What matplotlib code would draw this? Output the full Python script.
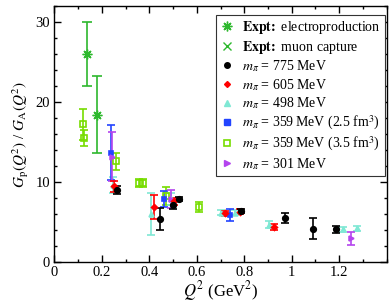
import matplotlib
matplotlib.use("Agg")
import matplotlib.pyplot as plt
from matplotlib.lines import Line2D
from matplotlib.ticker import MultipleLocator

plt.rcParams['font.family'] = ['Liberation Serif', 'DejaVu Serif']
plt.rcParams['mathtext.fontset'] = 'stix'

# ---------------- datos ----------------
# experimento
elec_q2 = [0.137]
elec_g = [26.0]
elec_err = [4.0]
muon_q2 = [0.178]
muon_g = [18.4]
muon_err = [4.8]

# m_pi = 775 MeV
q2_775 = [0.262, 0.443, 0.500, 0.527, 0.787, 0.973, 1.091, 1.187]
g_775 = [9.0, 5.4, 7.2, 7.9, 6.4, 5.5, 4.2, 4.1]
e_775 = [0.5, 1.4, 0.6, 0.3, 0.3, 0.6, 1.35, 0.45]

# m_pi = 605 MeV
q2_605 = [0.252, 0.419, 0.505, 0.720, 0.780, 0.927]
g_605 = [9.5, 6.9, 7.6, 6.1, 6.3, 4.4]
e_605 = [0.7, 1.5, 0.4, 0.35, 0.3, 0.4]

# m_pi = 498 MeV
q2_498 = [0.245, 0.406, 0.490, 0.700, 0.760, 0.906, 1.217, 1.277]
g_498 = [9.6, 6.0, 7.9, 6.2, 6.2, 4.7, 4.1, 4.25]
e_498 = [1.0, 2.6, 0.8, 0.3, 0.3, 0.4, 0.3, 0.3]

# m_pi = 359 MeV (2.5 fm^3)
q2_359a = [0.237, 0.462, 0.738]
g_359a = [13.7, 7.9, 5.9]
e_359a = [3.4, 1.0, 0.7]

# m_pi = 359 MeV (3.5 fm^3)
q2_359b = [0.120, 0.124, 0.258, 0.357, 0.372, 0.472, 0.609]
g_359b = [17.2, 15.5, 12.6, 9.9, 9.9, 8.3, 6.9]
e_359b = [1.9, 1.0, 1.1, 0.5, 0.5, 1.1, 0.6]

# m_pi = 301 MeV
q2_301 = [0.243, 0.493, 1.250]
g_301 = [13.2, 7.9, 3.0]
e_301 = [3.0, 1.1, 0.8]

# ---------------- grafico ----------------
fig = plt.figure(figsize=(3.91, 3.02), dpi=100)
ax = fig.add_axes([0.139, 0.1315, 0.850, 0.849])

verde = '#2db82d'
series = [
    (q2_359b, g_359b, e_359b, 's', '#77dd00', 'none', 4.0),
    (q2_498, g_498, e_498, '^', '#7fe8d4', '#7fe8d4', 3.5),
    (q2_359a, g_359a, e_359a, 's', '#2244ff', '#2244ff', 3.5),
    (q2_301, g_301, e_301, '>', '#b444ee', '#b444ee', 3.5),
    (q2_605, g_605, e_605, 'D', '#ff0000', '#ff0000', 3.0),
    (q2_775, g_775, e_775, 'o', 'black', 'black', 4.0),
]
for x, y, e, m, c, fc, ms in series:
    ax.errorbar(x, y, yerr=e, fmt=m, color=c, mfc=fc, mec=c, ms=ms,
                mew=1.2, elinewidth=1.2, capsize=3, capthick=1.2)

ax.errorbar(elec_q2, elec_g, yerr=elec_err, fmt='none', ecolor=verde,
            elinewidth=1.2, capsize=3.5, capthick=1.2)
ax.plot(elec_q2, elec_g, marker=(8, 2, 0), color=verde, ms=7, mew=1.0, ls='none')
ax.errorbar(muon_q2, muon_g, yerr=muon_err, fmt='none', ecolor=verde,
            elinewidth=1.2, capsize=3.5, capthick=1.2)
ax.plot(muon_q2, muon_g, marker=(8, 2, 0), color=verde, ms=7, mew=1.0, ls='none')

ax.set_xlim(0, 1.4)
ax.set_ylim(0, 32)
ax.xaxis.set_major_locator(MultipleLocator(0.2))
ax.xaxis.set_minor_locator(MultipleLocator(0.1))
ax.yaxis.set_major_locator(MultipleLocator(10))
ax.yaxis.set_minor_locator(MultipleLocator(2))
ax.set_xticks([0, 0.2, 0.4, 0.6, 0.8, 1.0, 1.2])
ax.set_xticklabels(['0', '0.2', '0.4', '0.6', '0.8', '1', '1.2'])
ax.tick_params(which='both', direction='in', top=True, right=True, labelsize=10.5, pad=3)
ax.tick_params(which='major', length=5, width=1)
ax.tick_params(which='minor', length=2.5, width=1)
for s in ax.spines.values():
    s.set_linewidth(1.0)

ax.set_xlabel(r'$Q^2$ (GeV$^2$)', fontsize=12, labelpad=0)
ax.set_ylabel(r'$G_{\rm p}(Q^2)$ / $G_{\rm A}(Q^2)$', fontsize=11, labelpad=3)

handles = [
    Line2D([], [], ls='none', marker=(8, 2, 0), color=verde, ms=7, mew=1.0),
    Line2D([], [], ls='none', marker='x', color=verde, ms=6, mew=1.0),
    Line2D([], [], ls='none', marker='o', color='black', ms=4),
    Line2D([], [], ls='none', marker='D', color='#ff0000', ms=3),
    Line2D([], [], ls='none', marker='^', color='#7fe8d4', ms=4),
    Line2D([], [], ls='none', marker='s', color='#2244ff', ms=4),
    Line2D([], [], ls='none', marker='s', mfc='none', mec='#77dd00', mew=1.2, ms=4.5),
    Line2D([], [], ls='none', marker='>', color='#b444ee', ms=4),
]
labels = [
    r'$\mathbf{Expt}\!\mathbf{:}$ electroproduction',
    r'$\mathbf{Expt}\!\mathbf{:}$ muon capture',
    r'$m_\pi$ = 775 MeV',
    r'$m_\pi$ = 605 MeV',
    r'$m_\pi$ = 498 MeV',
    r'$m_\pi$ = 359 MeV (2.5 fm$^3$)',
    r'$m_\pi$ = 359 MeV (3.5 fm$^3$)',
    r'$m_\pi$ = 301 MeV',
]
leg = ax.legend(handles, labels, loc='upper right', bbox_to_anchor=(0.995, 0.966),
                fontsize=10, frameon=True,
                fancybox=False, edgecolor='#333333', framealpha=1,
                handlelength=1.0, handletextpad=0.6, labelspacing=0.2,
                borderpad=0.3, borderaxespad=0.0)
leg.get_frame().set_linewidth(0.8)

plt.savefig('out.png', dpi=100)
